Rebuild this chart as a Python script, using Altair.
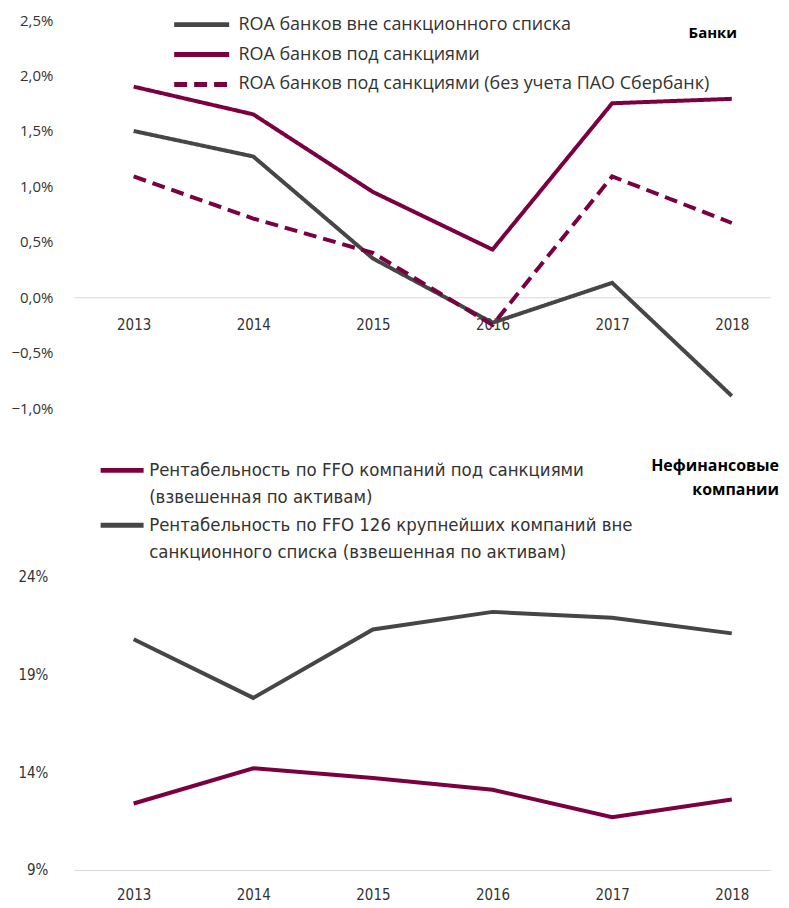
import altair as alt
import pandas as pd

years = ["2013", "2014", "2015", "2016", "2017", "2018"]

# Banks: ROA, %
roa_outside = [1.50, 1.27, 0.35, -0.23, 0.13, -0.89]
roa_sanctioned = [1.90, 1.65, 0.95, 0.43, 1.75, 1.79]
roa_sanctioned_ex_sber = [1.09, 0.71, 0.40, -0.25, 1.09, 0.67]

# Non-financial companies: FFO return, %
ffo_sanctioned = [12.4, 14.2, 13.7, 13.1, 11.7, 12.6]
ffo_outside = [20.8, 17.8, 21.3, 22.2, 21.9, 21.1]

bank_series = [
    "ROA банков вне санкционного списка",
    "ROA банков под санкциями",
    "ROA банков под санкциями (без учета ПАО Сбербанк)",
]
corp_series = [
    "Рентабельность по FFO компаний под санкциями|(взвешенная по активам)",
    "Рентабельность по FFO 126 крупнейших компаний вне|санкционного списка (взвешенная по активам)",
]

GREY = "#464646"
MAROON = "#7A0040"
NARROW = "DejaVu Sans Condensed, Open Sans, sans-serif"

banks = pd.DataFrame(
    [(y, v, bank_series[0], 0) for y, v in zip(years, roa_outside)]
    + [(y, v, bank_series[1], 1) for y, v in zip(years, roa_sanctioned)]
    + [(y, v, bank_series[2], 2) for y, v in zip(years, roa_sanctioned_ex_sber)],
    columns=["year", "value", "series", "ord"],
)
corps = pd.DataFrame(
    [(y, v, corp_series[0]) for y, v in zip(years, ffo_sanctioned)]
    + [(y, v, corp_series[1]) for y, v in zip(years, ffo_outside)],
    columns=["year", "value", "series"],
)

W = 698
H_TOP = 389
H_BOT = 294

xscale = alt.Scale(domain=years, padding=0.41, align=0.61)
noview = alt.ViewConfig(stroke="transparent", strokeWidth=0)

top_legend = alt.Legend(
    orient="none", legendX=98, legendY=-5, title=None,
    symbolType="M-1,0H7", symbolSize=190, symbolStrokeWidth=5,
    labelFont="Open Sans", labelFontSize=18, labelColor="#333333",
    labelOffset=48, rowPadding=9, labelLimit=600,
)

top_lines = alt.Chart(banks).mark_line(strokeWidth=4).encode(
    x=alt.X(
        "year:N", sort=years, scale=xscale, title=None,
        axis=alt.Axis(
            orient="bottom", offset=-H_TOP * 1.0 / 3.5, ticks=False,
            domainColor="#d9d9d9", domainWidth=1, labelAngle=0,
            labelPadding=20, labelFont=NARROW,
            labelFontSize=15, labelColor="#333333", grid=False,
        ),
    ),
    y=alt.Y(
        "value:Q", title=None,
        scale=alt.Scale(domain=[-1.0, 2.5], nice=False, zero=False),
        axis=alt.Axis(
            values=[-1.0, -0.5, 0.0, 0.5, 1.0, 1.5, 2.0, 2.5],
            labelExpr="replace(format(datum.value, '.1f'), '.', ',') + '%'",
            domain=False, ticks=False, grid=False, labelPadding=21,
            labelFont="Open Sans", labelFontSize=15, labelColor="#333333",
        ),
    ),
    color=alt.Color(
        "series:N",
        scale=alt.Scale(domain=bank_series, range=[GREY, MAROON, MAROON]),
        legend=top_legend,
    ),
    strokeDash=alt.StrokeDash(
        "series:N",
        scale=alt.Scale(domain=bank_series, range=[[1, 0], [1, 0], [13, 7]]),
        legend=top_legend,
    ),
    order=alt.Order("ord:Q"),
)

top_title = alt.Chart(pd.DataFrame({"t": ["Банки"]})).mark_text(
    align="right", baseline="middle", font="Open Sans", fontSize=15,
    fontWeight="bold", color="#000000",
).encode(x=alt.value(665), y=alt.value(13), text="t:N")

top = alt.layer(top_lines, top_title).properties(width=W, height=H_TOP, view=noview)

bot_lines = alt.Chart(corps).mark_line(strokeWidth=4).encode(
    x=alt.X(
        "year:N", sort=years, scale=xscale, title=None,
        axis=alt.Axis(
            orient="bottom", ticks=False, domainColor="#d9d9d9", domainWidth=1,
            labelAngle=0, labelPadding=18, labelFont=NARROW,
            labelFontSize=15, labelColor="#333333", grid=False,
        ),
    ),
    y=alt.Y(
        "value:Q", title=None,
        scale=alt.Scale(domain=[9, 24], nice=False, zero=False),
        axis=alt.Axis(
            values=[9, 14, 19, 24], labelExpr="datum.value + '%'",
            domain=False, ticks=False, grid=False, labelPadding=26,
            labelFont=NARROW, labelFontSize=15,
            labelColor="#333333",
        ),
    ),
    color=alt.Color(
        "series:N",
        scale=alt.Scale(domain=corp_series, range=[MAROON, GREY]),
        legend=alt.Legend(
            orient="none", legendX=23, legendY=-125, title=None,
            symbolType="M-1,1.7H7", symbolSize=116, symbolStrokeWidth=5,
            labelFont=NARROW, labelFontSize=18.5,
            labelColor="#333333", labelOffset=34, rowPadding=0,
            labelLimit=700, labelExpr="split(datum.label, '|')",
            labelBaseline="top",
        ),
    ),
)

bot_title = alt.Chart(pd.DataFrame({"t": ["Нефинансовые\nкомпании"]})).mark_text(
    align="right", baseline="middle", font="Open Sans", fontSize=16,
    fontWeight="bold", color="#000000", lineBreak="\n", lineHeight=24,
).encode(x=alt.value(707), y=alt.value(-111), text="t:N")

bot = alt.layer(bot_lines, bot_title).properties(width=W, height=H_BOT, view=noview)

chart = (
    alt.vconcat(top, bot, spacing=36)
    .resolve_scale(color="independent", strokeDash="independent")
    .configure_view(strokeWidth=0, stroke="transparent")
    .configure(
        padding={"left": 2, "top": 4, "right": 2, "bottom": 2},
        style={
            "guide-label": {"lineHeight": 27},
            "cell": {"stroke": "transparent", "strokeWidth": 0},
        },
    )
)

chart.save("out.html", embed_options={"renderer": "svg", "actions": False})
